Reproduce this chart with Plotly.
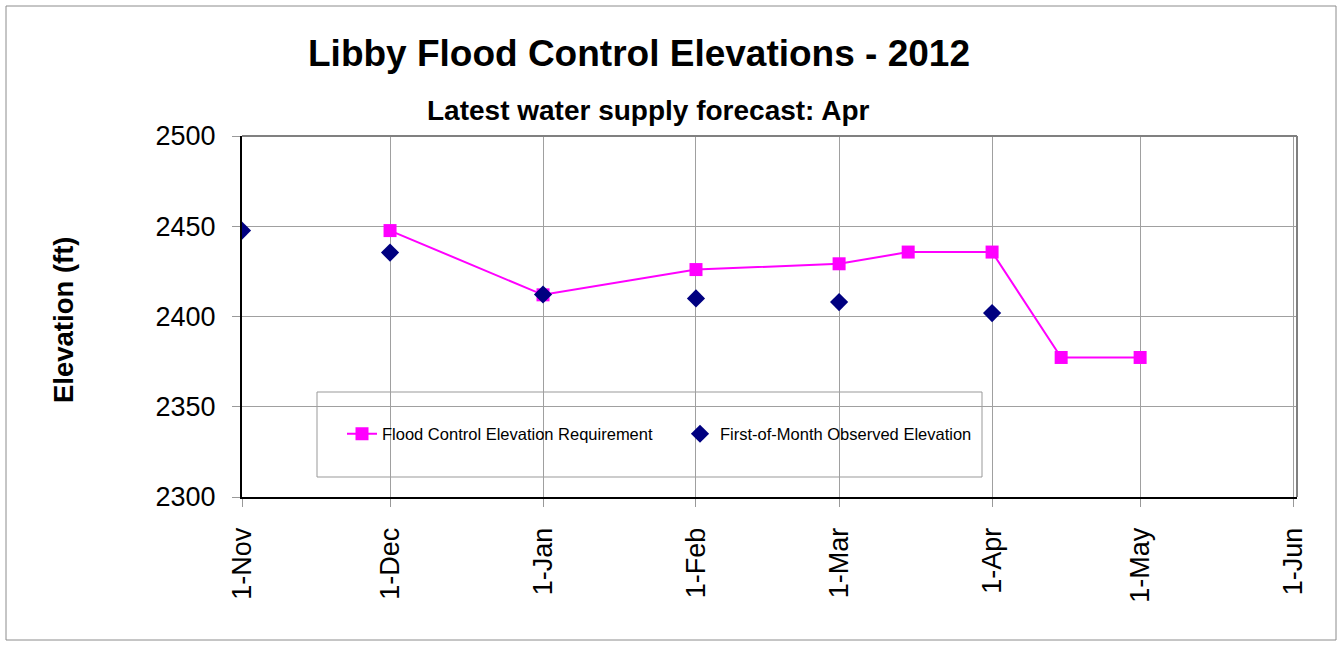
import plotly.graph_objects as go

# ---- data ----
flood_dates = ["2011-12-01", "2012-01-01", "2012-02-01", "2012-03-01",
               "2012-03-15", "2012-04-01", "2012-04-15", "2012-05-01"]
flood_elev = [2447.6, 2412.0, 2426.0, 2429.2, 2435.7, 2435.7, 2377.3, 2377.3]

obs_dates = ["2011-11-01", "2011-12-01", "2012-01-01", "2012-02-01",
             "2012-03-01", "2012-04-01"]
obs_elev = [2447.6, 2435.4, 2412.2, 2410.0, 2408.0, 2401.9]

title_text = "Libby Flood Control Elevations - 2012"
subtitle_text = "Latest water supply forecast: Apr"
y_title = "Elevation (ft)"
series_names = ["Flood Control Elevation Requirement", "First-of-Month Observed Elevation"]

# ---- layout geometry (pixels) ----
W, H = 1342, 645
L, R, T, B = 242, 1297, 136, 497
PW, PH = R - L, B - T


def px(x):
    return (x - L) / PW


def py(y):
    return (B - y) / PH


FONT = "Liberation Sans, Arial, sans-serif"

fig = go.Figure()
fig.add_trace(go.Scatter(
    x=flood_dates, y=flood_elev, name=series_names[0],
    mode="lines+markers",
    line=dict(color="#FF00FF", width=2),
    marker=dict(symbol="square", size=13, color="#FF00FF"),
))
fig.add_trace(go.Scatter(
    x=obs_dates, y=obs_elev, name=series_names[1],
    mode="markers",
    marker=dict(symbol="diamond", size=14, color="#000080"),
))

fig.update_layout(
    width=W, height=H,
    margin=dict(l=L, r=W - R, t=T, b=H - B, pad=0),
    paper_bgcolor="white", plot_bgcolor="white",
    font=dict(family=FONT, color="black"),
    showlegend=True,
    legend=dict(
        orientation="h", x=px(342), y=py(434), xanchor="left", yanchor="middle",
        bgcolor="rgba(0,0,0,0)", borderwidth=0,
        font=dict(size=16.5, family=FONT, color="black"),
        entrywidth=293, entrywidthmode="pixels",
    ),
    xaxis=dict(
        type="date",
        range=["2011-11-01", "2012-06-01 19:00"],
        tick0="2011-11-01", dtick="M1", tickformat="%-d-%b",
        tickangle=-90,
        tickfont=dict(size=27, family=FONT, color="black"),
        ticks="outside", ticklen=8, tickcolor="#999999",
        showgrid=True, gridcolor="#a0a0a0", gridwidth=1,
        showline=True, linecolor="black", linewidth=2,
        zeroline=False, ticklabelstandoff=10,
    ),
    yaxis=dict(
        range=[2300, 2500], dtick=50, tick0=2300,
        tickfont=dict(size=27, family=FONT, color="black"),
        ticks="outside", ticklen=8, tickcolor="#999999",
        showgrid=True, gridcolor="#a0a0a0", gridwidth=1,
        showline=True, linecolor="black", linewidth=2,
        zeroline=False, ticklabelstandoff=11,
    ),
    shapes=[
        # legend box
        dict(type="rect", xref="paper", yref="paper",
             x0=px(317), x1=px(982), y0=py(477), y1=py(392),
             line=dict(color="#999999", width=1), fillcolor="white", layer="between"),
        # plot frame (top and right)
        dict(type="line", xref="paper", yref="paper", x0=0, x1=1, y0=1, y1=1,
             line=dict(color="#808080", width=2), layer="above"),
        dict(type="line", xref="paper", yref="paper", x0=1, x1=1, y0=0, y1=1,
             line=dict(color="#808080", width=2), layer="above"),
        # outer chart border
        dict(type="rect", xref="paper", yref="paper",
             x0=px(6), x1=px(1336), y0=py(640), y1=py(6),
             line=dict(color="#8c8c8c", width=1), fillcolor="rgba(0,0,0,0)", layer="below"),
    ],
    annotations=[
        dict(text=title_text, xref="paper", yref="paper", x=px(639), y=py(54),
             xanchor="center", yanchor="middle", showarrow=False,
             font=dict(size=37, family=FONT, color="black", weight="bold")),
        dict(text=subtitle_text, xref="paper", yref="paper", x=px(648), y=py(110),
             xanchor="center", yanchor="middle", showarrow=False,
             font=dict(size=28, family=FONT, color="black", weight="bold")),
        dict(text=y_title, xref="paper", yref="paper", x=px(63), y=py(320),
             xanchor="center", yanchor="middle", showarrow=False, textangle=-90,
             font=dict(size=27.5, family=FONT, color="black", weight="bold")),
    ],
)

fig.write_html("out.html", config={"displayModeBar": False},
               post_script="document.body.style.margin='0';document.body.style.overflow='hidden';")
